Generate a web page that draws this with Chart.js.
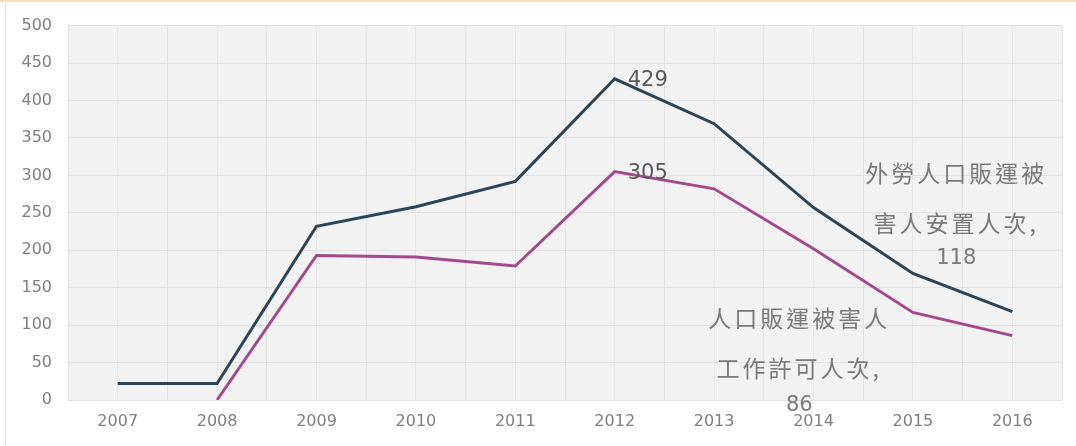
<!DOCTYPE html>
<html>
<head>
<meta charset="utf-8">
<script src="https://cdn.jsdelivr.net/npm/chart.js@4/dist/chart.umd.min.js"></script>
<style>
html,body{margin:0;padding:0;background:#fff;}
#wrap{width:1076px;height:446px;position:relative;}
</style>
</head>
<body>
<div id="wrap"><canvas id="c" width="1076" height="446"></canvas></div>
<script>
const years = ['2007','2008','2009','2010','2011','2012','2013','2014','2015','2016'];
const shelterValues = [22, 22, 232, 258, 292, 429, 369, 257, 169, 118];
const permitValues = [null, 0, 193, 191, 179, 305, 282, 202, 117, 86];
const shelterName = ['外勞人口販運被', '害人安置人次,', '118'];
const permitName = ['人口販運被害人', '工作許可人次,', '86'];
const yTicks = [0, 50, 100, 150, 200, 250, 300, 350, 400, 450, 500];

const numFont = '"DejaVu Sans", sans-serif';
const cjkFont = '"Noto Sans CJK TC", sans-serif';

const bgPlugin = {
  id: 'bg',
  beforeDraw(chart) {
    const {ctx, chartArea: a} = chart;
    ctx.save();
    ctx.fillStyle = '#ffffff';
    ctx.fillRect(0, 0, chart.width, chart.height);
    ctx.fillStyle = '#f2f2f2';
    ctx.fillRect(a.left, a.top, a.right - a.left, a.bottom - a.top);
    ctx.strokeStyle = '#f3dfbf';
    ctx.lineWidth = 2;
    ctx.beginPath(); ctx.moveTo(0, 1); ctx.lineTo(chart.width, 1); ctx.stroke();
    ctx.strokeStyle = '#e6e6e6';
    ctx.lineWidth = 1;
    ctx.beginPath(); ctx.moveTo(5.5, 0); ctx.lineTo(5.5, chart.height); ctx.stroke();
    ctx.restore();
  }
};

const labelPlugin = {
  id: 'labels',
  afterDatasetsDraw(chart) {
    const {ctx} = chart;
    const xs = chart.scales.x, ys = chart.scales.y;
    ctx.save();
    // peak values
    ctx.font = '21px ' + numFont;
    ctx.fillStyle = '#595959';
    ctx.textAlign = 'left';
    ctx.textBaseline = 'middle';
    const pk = 5;
    ctx.fillText(String(shelterValues[pk]), xs.getPixelForValue(pk) + 13, ys.getPixelForValue(shelterValues[pk]) + 2);
    ctx.fillText(String(permitValues[pk]), xs.getPixelForValue(pk) + 13, ys.getPixelForValue(permitValues[pk]) + 2);

    // series end labels
    const last = years.length - 1;
    ctx.fillStyle = '#7a7a7a';
    ctx.textAlign = 'center';
    const drawBlock = (lines, vals, dx, dys) => {
      const px = xs.getPixelForValue(last) + dx;
      const py = ys.getPixelForValue(vals[last]);
      lines.forEach((t, i) => {
        const isNum = /^[0-9]+$/.test(t);
        ctx.font = isNum ? ('21px ' + numFont) : ('23px ' + cjkFont);
        try { ctx.letterSpacing = isNum ? '0px' : '3px'; } catch (e) {}
        ctx.fillText(t, px, py + dys[i]);
      });
    };
    drawBlock(shelterName, shelterValues, -56, [-138, -88, -53]);
    drawBlock(permitName, permitValues, -213, [-17, 33, 70]);
    ctx.restore();
  }
};

new Chart(document.getElementById('c'), {
  type: 'line',
  data: {
    labels: years,
    datasets: [
      {
        label: '外勞人口販運被害人安置人次',
        data: shelterValues,
        borderColor: '#2b4457',
        borderWidth: 3,
        pointRadius: 0,
        tension: 0,
        fill: false
      },
      {
        label: '人口販運被害人工作許可人次',
        data: permitValues,
        borderColor: '#a34a8d',
        borderWidth: 3,
        pointRadius: 0,
        tension: 0,
        fill: false
      }
    ]
  },
  options: {
    responsive: false,
    animation: false,
    layout: {padding: {top: 20, right: 14, bottom: 0, left: 0}},
    plugins: {legend: {display: false}, tooltip: {enabled: false}},
    scales: {
      x: {
        type: 'category',
        offset: true,
        grid: {offset: true, color: '#e2e2e2', drawTicks: false},
        border: {display: false},
        ticks: {color: '#7f7f7f', font: {family: numFont, size: 16}, padding: 12, maxRotation: 0},
        afterFit(s) { s.height = 46; }
      },
      x2: {
        type: 'category',
        labels: years,
        offset: true,
        position: 'bottom',
        grid: {offset: false, color: '#e6e6e6', drawTicks: false},
        border: {display: false},
        ticks: {display: false},
        afterFit(s) { s.height = 0; }
      },
      y: {
        min: 0,
        max: 500,
        afterBuildTicks(s) { s.ticks = yTicks.map(v => ({value: v})); },
        grid: {color: '#e2e2e2', drawTicks: false},
        border: {display: false},
        ticks: {color: '#7f7f7f', font: {family: numFont, size: 16}, padding: 16},
        afterFit(s) { s.width = 68; }
      }
    }
  },
  plugins: [bgPlugin, labelPlugin]
});
</script>
</body>
</html>
